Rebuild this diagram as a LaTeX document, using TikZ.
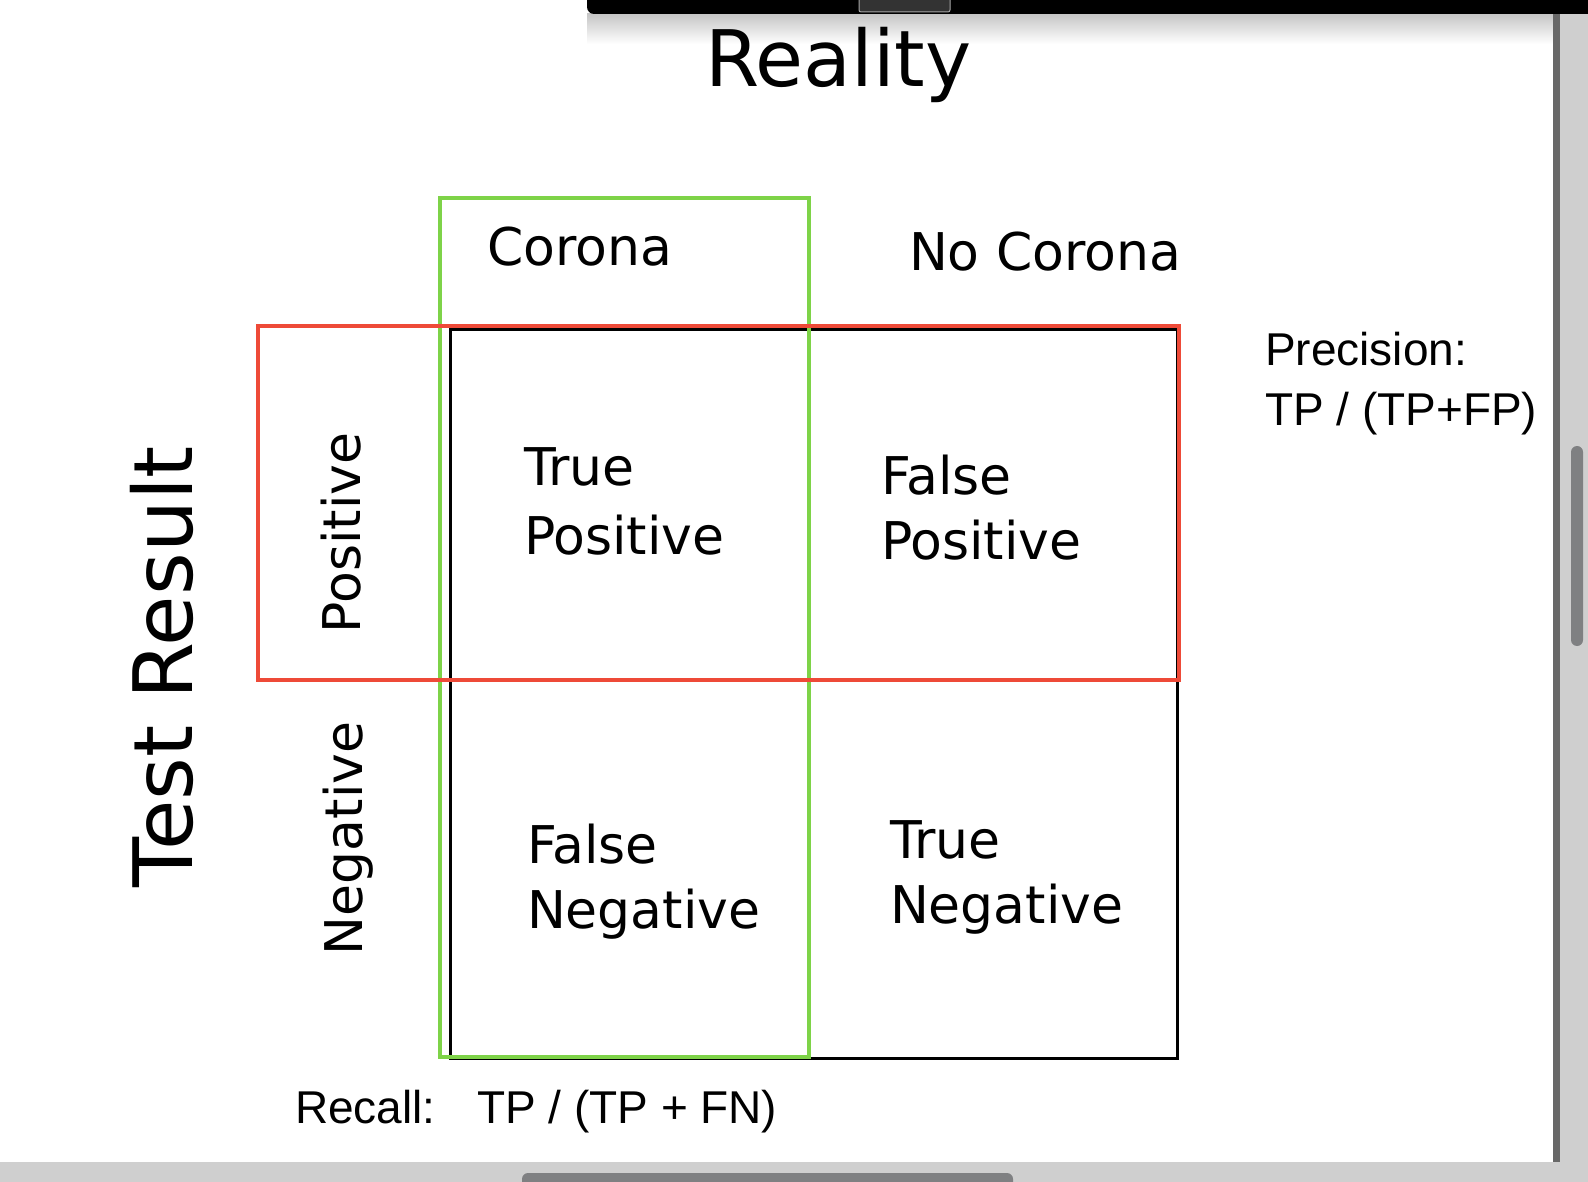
\documentclass[tikz,border=0pt]{standalone}
\usepackage{fontspec}
\setmainfont{DejaVu Sans}
\newfontfamily\arialf{Liberation Sans}
\definecolor{boxgreen}{HTML}{7ED348}
\definecolor{boxred}{HTML}{EE4A38}
\definecolor{barlight}{HTML}{CFCFCF}
\definecolor{bardark}{HTML}{686868}
\definecolor{thumb}{HTML}{7F8082}
\tikzset{
  lbl/.style={anchor=base west, inner sep=0pt, outer sep=0pt, font=\fontsize{52}{69}\selectfont},
  big/.style={anchor=base west, inner sep=0pt, outer sep=0pt, font=\fontsize{78}{90}\selectfont},
  bigside/.style={anchor=base west, inner sep=0pt, outer sep=0pt, font=\fontsize{82}{90}\selectfont},
  formula/.style={anchor=base west, inner sep=0pt, outer sep=0pt, font=\arialf\fontsize{46}{53}\selectfont},
  gridline/.style={draw=black, line width=3pt},
  greenbox/.style={draw=boxgreen, line width=3.6pt},
  redbox/.style={draw=boxred, line width=3.6pt},
}
\begin{document}
\begin{tikzpicture}[x=1pt,y=-1pt]
\useasboundingbox (0,0) rectangle (1588,1182);
\fill[white] (0,0) rectangle (1588,1182);
% window chrome
\shade[top color=gray!45, bottom color=white] (587,14) rectangle (1553,44);
\fill[black] (1588,0) -- (587,0) [rounded corners=7pt] -- (587,14) [sharp corners] -- (1588,14) -- cycle;
\fill[black!80, draw=gray!70, line width=1pt, rounded corners=2pt] (859,-3) rectangle (950,12);
\fill[barlight] (1560,14) rectangle (1588,1182);
\fill[bardark] (1553,14) rectangle (1560,1162);
\fill[thumb, rounded corners=6pt] (1571,446) rectangle (1583,646);
\fill[barlight] (0,1162) rectangle (1560,1182);
\fill[thumb, rounded corners=6pt] (522,1173) rectangle (1013,1190);
% matrix grid
\coordinate (g1) at (450,330);
\coordinate (g2) at (1177,1058);
\draw[gridline] (g1) rectangle (g2);
\coordinate (vm1) at (809,330);
\coordinate (vm2) at (809,1058);
\coordinate (hm1) at (450,680);
\coordinate (hm2) at (1177,680);
\draw[gridline] (vm1) -- (vm2);
\draw[gridline] (hm1) -- (hm2);
% highlight boxes
\coordinate (gb1) at (440,198);
\coordinate (gb2) at (809,1057);
\draw[greenbox] (gb1) rectangle (gb2);
\coordinate (rb1) at (258,326);
\coordinate (rb2) at (1179,680);
\draw[redbox] (rb1) rectangle (rb2);
% headings
\node[big] (reality) at (705,87) {Reality};
\node[bigside, rotate=90] (testresult) at (192,887) {Test Result};
\node[lbl] (corona) at (487,266) {Corona};
\node[lbl] (nocorona) at (909,271) {No Corona};
\node[lbl, rotate=90] (positive) at (360,633) {Positive};
\node[lbl, rotate=90] (negative) at (362,955) {Negative};
% cells
\node[lbl] (tp1) at (524,485) {True};
\node[lbl] (tp2) at (524,554) {Positive};
\node[lbl] (fp1) at (881,494) {False};
\node[lbl] (fp2) at (881,559) {Positive};
\node[lbl] (fn1) at (527,863) {False};
\node[lbl] (fn2) at (527,928) {Negative};
\node[lbl] (tn1) at (890,858) {True};
\node[lbl] (tn2) at (890,923) {Negative};
% formulas
\node[formula] (prec1) at (1265,366) {Precision:};
\node[formula] (prec2) at (1265,425) {TP / (TP+FP)};
\node[formula] (rec1) at (295,1123) {Recall:};
\node[formula] (rec2) at (477,1123) {TP / (TP + FN)};
\end{tikzpicture}
\end{document}
